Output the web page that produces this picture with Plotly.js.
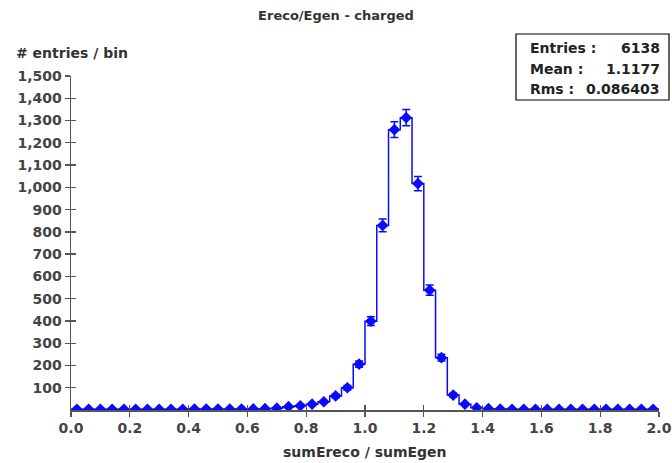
<!DOCTYPE html>
<html>
<head>
<meta charset="utf-8">
<script src="https://cdn.plot.ly/plotly-3.0.1.min.js"></script>
<style>html,body{margin:0;padding:0;background:#fff;}#chart{width:672px;height:463px;}</style>
</head>
<body>
<div id="chart"></div>
<script>
// ---- data ----
const binLow = 0.0;
const binWidth = 0.04;
const counts = [
  3, 3, 3, 3, 3, 3, 3, 3, 3, 3,      // 0.00 - 0.40
  4, 4, 4, 4, 4, 5, 6, 8,            // 0.40 - 0.72
  15, 19, 26, 37, 63, 100, 206,      // 0.72 - 1.00
  399, 829, 1259, 1313, 1017, 538, 235, 67, 26, 10,  // 1.00 - 1.40
  6, 4, 3, 3, 3, 3, 3, 3, 3, 3, 3, 3, 3, 3, 3        // 1.40 - 2.00
];
const yTickVals = [100,200,300,400,500,600,700,800,900,1000,1100,1200,1300,1400,1500];
const xTickVals = [0,0.2,0.4,0.6,0.8,1.0,1.2,1.4,1.6,1.8,2.0];
const titleText = "Ereco/Egen - charged";
const xTitle = "sumEreco / sumEgen";
const yTitle = "# entries / bin";
const statLabels = ["Entries :", "Mean :", "Rms :"];
const statValues = ["6138", "1.1177", "0.086403"];

// ---- derived ----
const centers = counts.map((c, i) => binLow + (i + 0.5) * binWidth);
const errs = counts.map(c => Math.sqrt(c));
const edges = counts.map((c, i) => binLow + i * binWidth).concat([binLow + counts.length * binWidth]);
const stepY = counts.concat([counts[counts.length - 1]]);

const W = 672, H = 463;
const mL = 71, mR = 13, mT = 76, mB = 53;
const pw = W - mL - mR, ph = H - mT - mB;
const px = x => (x - mL) / pw;
const py = y => (H - mB - y) / ph;

const font = "DejaVu Sans, sans-serif";
const blue = "#0a0aff";

const traces = [
  {
    x: edges, y: stepY, type: "scatter", mode: "lines",
    line: {shape: "hv", color: blue, width: 1.5},
    hoverinfo: "skip", showlegend: false
  },
  {
    x: centers, y: counts, type: "scatter", mode: "markers",
    marker: {symbol: "diamond", size: 9, color: blue},
    error_y: {type: "data", array: errs, visible: true, color: blue, thickness: 1.5, width: 4},
    hoverinfo: "skip", showlegend: false
  }
];

const axisCommon = {
  showgrid: false, zeroline: false, showline: true, linecolor: "#555", linewidth: 1.5,
  ticks: "outside", ticklen: 5, tickwidth: 1.3, tickcolor: "#555",
  tickfont: {family: font, size: 14, color: "#444", weight: "bold"}
};

const layout = {
  width: W, height: H,
  margin: {l: mL, r: mR, t: mT, b: mB},
  paper_bgcolor: "#fff", plot_bgcolor: "#fff",
  title: {text: titleText, font: {family: font, size: 13, color: "#333", weight: "bold"}, x: 0.5, xanchor: "center", y: 1 - 15 / H, yanchor: "middle"},
  xaxis: Object.assign({}, axisCommon, {range: [0, 2], tickvals: xTickVals, tickformat: ".1f"}),
  yaxis: Object.assign({}, axisCommon, {range: [0, 1500], tickvals: yTickVals, tickformat: ",d"}),
  xaxis2: {overlaying: "x", range: [0, 2], tickvals: xTickVals, ticks: "inside", ticklen: 5, tickwidth: 1.3, tickcolor: "#555", showticklabels: false, showgrid: false, zeroline: false, showline: false, anchor: "y"},
  yaxis2: {overlaying: "y", range: [0, 1500], tickvals: yTickVals, ticks: "inside", ticklen: 5, tickwidth: 1.3, tickcolor: "#555", showticklabels: false, showgrid: false, zeroline: false, showline: false, anchor: "x"},
  shapes: [
    {type: "rect", xref: "paper", yref: "paper", x0: px(516), x1: px(669), y0: py(100), y1: py(34), line: {color: "#000", width: 1.2}, fillcolor: "#fff", layer: "above"}
  ],
  annotations: [
    {xref: "paper", yref: "paper", x: px(14), y: py(53), xanchor: "left", yanchor: "middle", showarrow: false, text: yTitle, font: {family: font, size: 14, color: "#333", weight: "bold"}},
    {xref: "paper", yref: "paper", x: px(365), y: py(452), xanchor: "center", yanchor: "middle", showarrow: false, text: xTitle, font: {family: font, size: 14, color: "#333", weight: "bold"}}
  ]
};

const rowsY = [48, 69, 89];
statLabels.forEach((lab, i) => {
  layout.annotations.push({xref: "paper", yref: "paper", x: px(528), y: py(rowsY[i]), xanchor: "left", yanchor: "middle", showarrow: false, text: lab, font: {family: font, size: 14, color: "#222", weight: "bold"}});
  layout.annotations.push({xref: "paper", yref: "paper", x: px(662), y: py(rowsY[i]), xanchor: "right", yanchor: "middle", showarrow: false, text: statValues[i], font: {family: font, size: 14, color: "#222", weight: "bold"}});
});

// dummy trace to activate overlay axes
traces.push({x: [0], y: [0], xaxis: "x2", yaxis: "y2", mode: "markers", marker: {opacity: 0}, hoverinfo: "skip", showlegend: false});

Plotly.newPlot("chart", traces, layout, {staticPlot: true, displayModeBar: false});
</script>
</body>
</html>
